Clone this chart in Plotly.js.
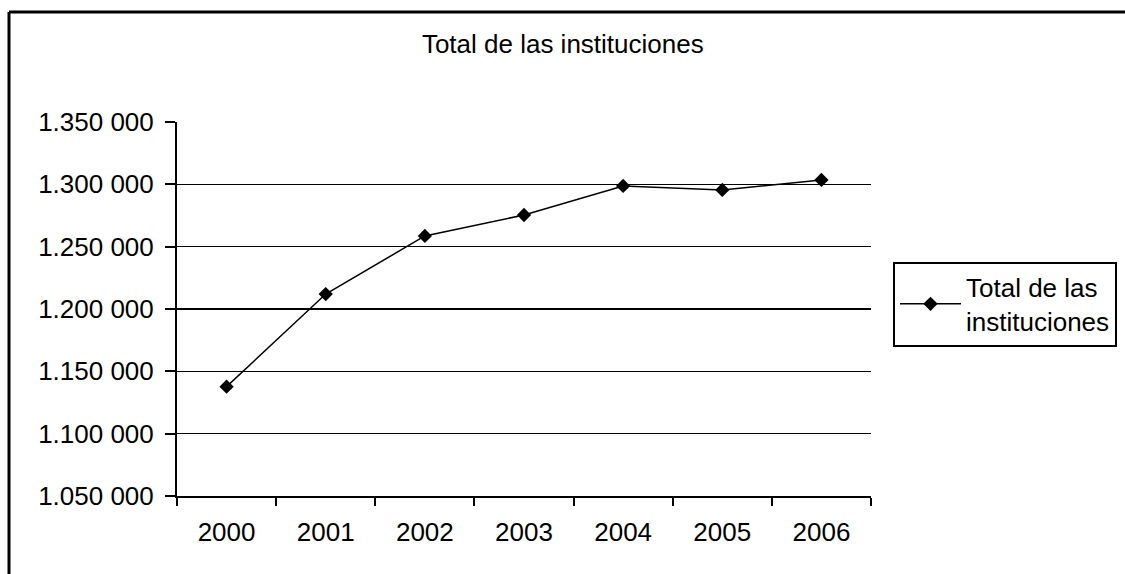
<!DOCTYPE html>
<html>
<head>
<meta charset="utf-8">
<script src="https://cdn.plot.ly/plotly-3.0.1.min.js"></script>
<style>
html,body{margin:0;padding:0;background:#fff;}
#chart{width:1125px;height:574px;}
</style>
</head>
<body>
<div id="chart"></div>
<script>
// Data
var years = ["2000", "2001", "2002", "2003", "2004", "2005", "2006"];
var totals = [1137700, 1212000, 1258600, 1275400, 1298700, 1295500, 1303500];
var seriesName = "Total de las<br>instituciones";
var chartTitle = "Total de las instituciones";
var yTickVals = [1050000, 1100000, 1150000, 1200000, 1250000, 1300000, 1350000];

function fmt(v) {
  var m = Math.floor(v / 1000000);
  var k = Math.floor((v % 1000000) / 1000);
  var u = v % 1000;
  function p3(n) { return ("00" + n).slice(-3); }
  return m + "." + p3(k) + " " + p3(u);
}
var yTickText = yTickVals.map(fmt);

var FONT = "Liberation Sans, Arial, sans-serif";
var FS = 26;

var trace = {
  type: "scatter",
  mode: "lines+markers",
  x: years,
  y: totals,
  name: seriesName,
  line: {color: "#000", width: 1.5},
  marker: {symbol: "diamond", size: 11, color: "#000"},
  showlegend: true
};

var layout = {
  width: 1125,
  height: 574,
  paper_bgcolor: "#fff",
  plot_bgcolor: "#fff",
  margin: {l: 177, r: 254, t: 122, b: 78, pad: 0, autoexpand: false},
  font: {family: FONT, size: FS, color: "#000"},
  title: {
    text: chartTitle,
    font: {family: FONT, size: FS, color: "#000"},
    xref: "container", yref: "container",
    x: 0.375, xanchor: "left",
    y: 1 - 44 / 574, yanchor: "middle"
  },
  xaxis: {
    type: "category",
    range: [-0.5, years.length - 0.5],
    showline: true, linecolor: "#000", linewidth: 2,
    ticks: "outside", tickson: "boundaries", ticklen: 8, tickwidth: 2, tickcolor: "#000",
    showgrid: false, zeroline: false,
    tickfont: {family: FONT, size: FS, color: "#000"},
    ticklabelstandoff: 12,
    automargin: false,
    fixedrange: true
  },
  yaxis: {
    range: [1050000, 1350000],
    tickmode: "array", tickvals: yTickVals, ticktext: yTickText,
    showline: true, linecolor: "#000", linewidth: 2,
    ticks: "outside", ticklen: 10, tickwidth: 2, tickcolor: "#000",
    showgrid: true, gridcolor: "#000", gridwidth: 1.5,
    zeroline: false,
    tickfont: {family: FONT, size: FS, color: "#000"},
    ticklabelstandoff: 6,
    automargin: false,
    fixedrange: true
  },
  legend: {
    x: (893 - 177) / 694, y: (496 - 304) / 374,
    xanchor: "left", yanchor: "middle",
    bordercolor: "#000", borderwidth: 2, bgcolor: "#fff",
    font: {family: FONT, size: FS, color: "#000"},
    itemwidth: 61
  },
  shapes: [
    {type: "line", xref: "paper", yref: "paper",
     x0: (9 - 177) / 694, x1: (9 - 177) / 694, y0: (496 - 12) / 374, y1: (496 - 600) / 374,
     line: {color: "#000", width: 3}},
    {type: "line", xref: "paper", yref: "paper",
     x0: (9 - 177) / 694, x1: (1140 - 177) / 694, y0: (496 - 12) / 374, y1: (496 - 12) / 374,
     line: {color: "#000", width: 3}}
  ]
};

Plotly.newPlot("chart", [trace], layout, {displayModeBar: false, staticPlot: true});
</script>
</body>
</html>
